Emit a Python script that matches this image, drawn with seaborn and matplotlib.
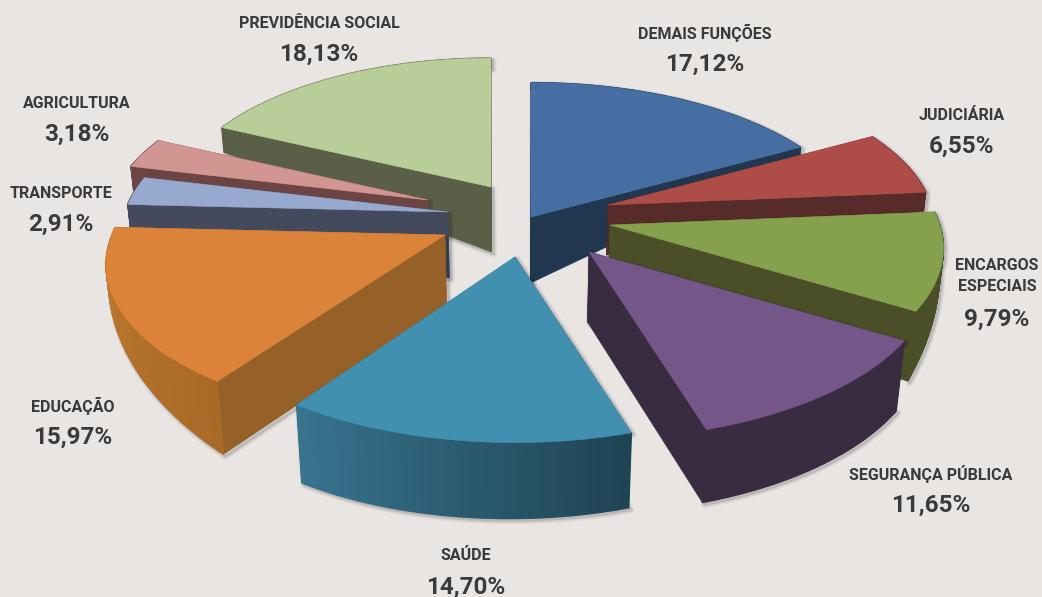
import numpy as np
import matplotlib
matplotlib.use("Agg")
import matplotlib.pyplot as plt
import seaborn as sns

# Budget shares by function, clockwise from twelve o'clock
categories = ["DEMAIS FUNÇÕES", "JUDICIÁRIA", "ENCARGOS\nESPECIAIS", "SEGURANÇA PÚBLICA",
              "SAÚDE", "EDUCAÇÃO", "TRANSPORTE", "AGRICULTURA", "PREVIDÊNCIA SOCIAL"]
shares = [17.12, 6.55, 9.79, 11.65, 14.70, 15.97, 2.91, 3.18, 18.13]

# Colours of the top face, the cut faces, and the rim at each end of the arc
top_colors = ["#476ea3", "#ae4d47", "#86a14e", "#745689", "#4290b0", "#db8338", "#97a9cf", "#d19592", "#b9cd98"]
wall_colors = ["#21364f", "#562b29", "#4a4f28", "#392b40", "#2a5a70", "#966128", "#434a5e", "#6b4443", "#5c5f47"]
rim_start = ["#21364f", "#562b29", "#4a4f28", "#392b40", "#1f4454", "#a86a28", "#434a5e", "#6b4443", "#5c5f47"]
rim_end = ["#21364f", "#562b29", "#4a4f28", "#392b40", "#38748f", "#c27c30", "#434a5e", "#6b4443", "#5c5f47"]

# Slice displacement from the pie centre, radius scale, shear and extrusion depth (apex, arc start, arc end)
explode_x = [16, 93, 95, 74, 0, -70, -67, -87, -24]
explode_y = [-5, -17, 3, 30, 35, 13, -10, -22, -35]
radius_scale = [0.97, 0.95, 0.97, 1.0, 0.99, 0.98, 0.95, 0.93, 0.93]
shear = [0, 0, 0, 0, 0, -0.08, 0, 0, 0]
depth_apex = [66, 50, 60, 70, 75, 70, 66, 10, 65]
depth_start = [8, 5, 5, 70, 75, 73, 24, 24, 25]
depth_end = [8, 19, 70, 73, 78, 5, 24, 24, 10]
draw_order = [8, 0, 7, 1, 6, 2, 5, 3, 4]

label_x = [705, 962, 997, 931, 466, 73, 61, 77, 319]
label_y = [33, 115, 276, 474, 556, 406, 193, 103, 23]

CX, CY = 515, 222
RX, RY = 340, 163
PERSPECTIVE = 0.15
TAPER = 0.0003
BACKGROUND = "#e8e5e3"
TEXT = "#3a3a3a"

sns.set_theme(style="white", rc={"figure.facecolor": BACKGROUND, "axes.facecolor": BACKGROUND})
plt.rcParams["font.family"] = ["Roboto", "Liberation Sans", "DejaVu Sans"]

fig = plt.figure(figsize=(10.42, 5.97), dpi=100)
ax = fig.add_axes([0, 0, 1, 1])
ax.set_xlim(0, 1042)
ax.set_ylim(597, 0)
ax.axis("off")


def project(i, theta):
    """Screen position of a point on the outer arc of slice i, with near points larger."""
    p = 1 - PERSPECTIVE * np.cos(theta)
    r = radius_scale[i]
    dy = -RY * r * np.cos(theta) * p
    x = CX + explode_x[i] + RX * r * np.sin(theta) * p + shear[i] * dy
    y = CY + explode_y[i] + dy
    return x, y


def drop(x, y, depth):
    """Lower a top-face point by the extrusion depth, tapering toward the centre."""
    return x - (x - CX) * depth * TAPER, y + depth


edges = np.deg2rad(np.concatenate([[0], np.cumsum(shares)]) * 360 / sum(shares))

for i in draw_order:
    thetas = np.linspace(edges[i], edges[i + 1], 80)
    depths = np.linspace(depth_start[i], depth_end[i], 80)
    xs, ys = project(i, thetas)
    bx, by = drop(xs, ys, depths)
    ax0, ay0 = CX + explode_x[i], CY + explode_y[i]
    abx, aby = drop(ax0, ay0, depth_apex[i])

    # Soft shadow around the whole silhouette
    sil_x = np.concatenate([[ax0], xs, bx[::-1], [abx]])
    sil_y = np.concatenate([[ay0], ys, by[::-1], [aby]])
    for width, alpha in [(5, 0.05), (3, 0.07), (1.5, 0.09)]:
        ax.fill(sil_x + 2, sil_y + 2, facecolor="none", edgecolor="black", alpha=alpha, lw=width, joinstyle="round")

    # Cut faces
    ax.fill([ax0, xs[0], bx[0], abx], [ay0, ys[0], by[0], aby], color=wall_colors[i], lw=0.4)
    ax.fill([ax0, xs[-1], bx[-1], abx], [ay0, ys[-1], by[-1], aby], color=wall_colors[i], lw=0.4)

    # Rim, shaded along the arc
    rim = sns.blend_palette([rim_start[i], rim_end[i]], 79)
    for k in range(79):
        ax.fill([xs[k], xs[k + 1], bx[k + 1], bx[k]], [ys[k], ys[k + 1], by[k + 1], by[k]], color=rim[k], lw=1.0)

    # Top face
    ax.fill(np.r_[ax0, xs], np.r_[ay0, ys], color=top_colors[i], lw=0.4)

    pct = f"{shares[i]:.2f}%".replace(".", ",")
    ax.text(label_x[i], label_y[i], categories[i], ha="center", va="center", color=TEXT,
            fontsize=11.5, fontweight="bold", linespacing=1.45)
    offset = 43 if "\n" in categories[i] else 31
    ax.text(label_x[i], label_y[i] + offset, pct, ha="center", va="center", color=TEXT,
            fontsize=17.5, fontweight="bold")

fig.savefig("out.png", dpi=100, facecolor=BACKGROUND)
